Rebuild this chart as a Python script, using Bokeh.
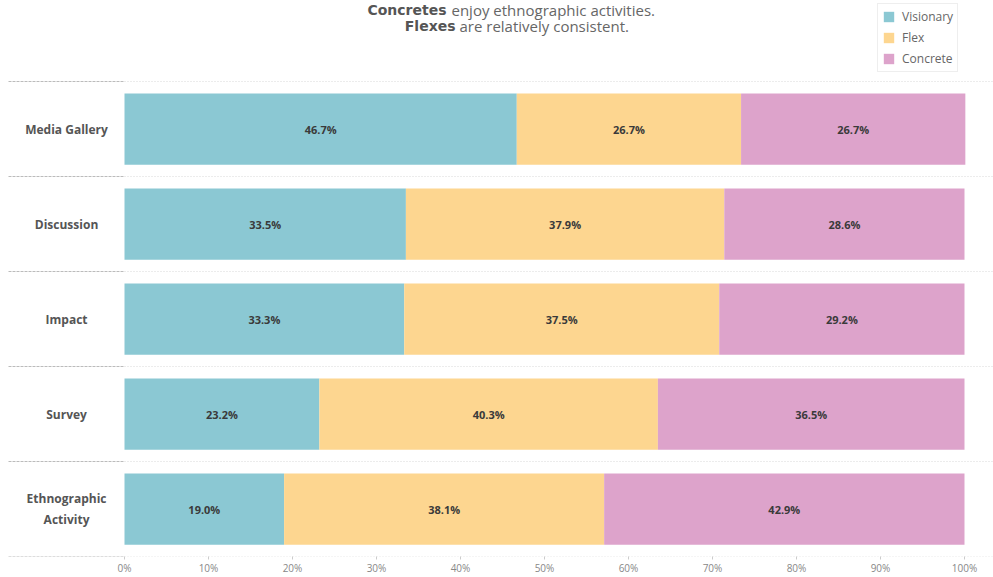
from bokeh.plotting import figure
from bokeh.models import ColumnDataSource, Range1d, FixedTicker, PrintfTickFormatter
from bokeh.core.properties import value
from bokeh.embed import file_html
from bokeh.resources import INLINE

categories = ["Media Gallery", "Discussion", "Impact", "Survey", "Ethnographic\nActivity"]
series = ["Visionary", "Flex", "Concrete"]
visionary = [46.7, 33.5, 33.3, 23.2, 19.0]
flex = [26.7, 37.9, 37.5, 40.3, 38.1]
concrete = [26.7, 28.6, 29.2, 36.5, 42.9]
colors = ["#8BC8D3", "#FDD690", "#DDA3CB"]
x_ticks = [0, 10, 20, 30, 40, 50, 60, 70, 80, 90, 100]
title_bold = ["Concretes", "Flexes"]
title_rest = ["enjoy ethnographic activities.", "are relatively consistent."]

FONT = "Open Sans"
n = len(categories)
ys = [n - i - 0.5 for i in range(n)]

src = ColumnDataSource(dict(y=ys, cat=categories, Visionary=visionary, Flex=flex, Concrete=concrete))

PX_PER_UNIT = 8.4
FRAME_H = 556
x_start = -124 / PX_PER_UNIT
x_end = (993 - 124) / PX_PER_UNIT
y_end = FRAME_H / 95

p = figure(width=993, height=577, output_backend="svg", toolbar_location=None,
           x_range=Range1d(x_start, x_end), y_range=Range1d(0, y_end),
           y_axis_location=None, min_border_left=0, min_border_right=0,
           min_border_top=0, min_border_bottom=0)
p.outline_line_color = None
p.xgrid.visible = False
p.ygrid.visible = False
p.background_fill_color = "white"
p.border_fill_color = "white"

# separators
bounds = list(range(n + 1))
left_edge = x_start + 8 / PX_PER_UNIT
p.segment(x0=[left_edge] * len(bounds), x1=[0] * len(bounds), y0=bounds, y1=bounds,
          line_color="#bbbbbb", line_dash="3 1", line_width=1)
p.segment(x0=[0] * len(bounds), x1=[x_end] * len(bounds), y0=bounds, y1=bounds,
          line_color="#d8d8d8", line_dash="1 2", line_width=1)

rs = p.hbar_stack(series, y="y", height=0.75, color=colors, source=src,
                  line_color=None, legend_label=series)

# segment labels
lx, ly, lt = [], [], []
for i in range(n):
    vals = [visionary[i], flex[i], concrete[i]]
    left = 0
    for v in vals:
        lx.append(left + v / 2)
        ly.append(ys[i])
        lt.append(f"{v:.1f}%")
        left += v
p.text(x=lx, y=ly, text=lt, text_align="center", text_baseline="middle",
       text_font=value(FONT), text_font_size="11px", text_font_style="bold",
       text_color="#3a3a3a")

# category labels
p.text(x=[-6.9] * n, y=ys, text=categories, text_align="center", text_baseline="middle",
       text_font=value(FONT), text_font_size="12px", text_font_style="bold",
       text_color="#555555", text_line_height=1.2)

# title (mixed bold)
split_bold = [(446 - 124) / PX_PER_UNIT, (455 - 124) / PX_PER_UNIT]
split_rest = [(451 - 124) / PX_PER_UNIT, (459 - 124) / PX_PER_UNIT]
title_y = [(FRAME_H - 9) / 95, (FRAME_H - 25) / 95]
p.text(x=split_bold, y=title_y, text=title_bold, text_align="right", text_baseline="middle",
       text_font=value("DejaVu Sans"), text_font_size="14px", text_font_style="bold",
       text_color="#555555")
p.text(x=split_rest, y=title_y, text=title_rest, text_align="left", text_baseline="middle",
       text_font=value(FONT), text_font_size="15px", text_color="#666666")

# x axis
ax = p.xaxis[0]
ax.ticker = FixedTicker(ticks=x_ticks, minor_ticks=[])
ax.formatter = PrintfTickFormatter(format="%d%%")
ax.axis_line_color = None
ax.major_tick_line_color = "#cccccc"
ax.major_tick_out = 3
ax.major_tick_in = 0
ax.minor_tick_line_color = None
ax.major_label_text_font = FONT
ax.major_label_text_font_size = "10px"
ax.major_label_text_color = "#888888"
ax.major_label_standoff = 1

lg = p.legend[0]
lg.location = (877, FRAME_H - 72)
lg.label_text_font = FONT
lg.label_text_font_size = "12px"
lg.label_text_color = "#666666"
lg.glyph_height = 13
lg.glyph_width = 13
lg.label_height = 13
lg.label_standoff = 7
lg.spacing = 4
lg.padding = 4
lg.margin = 0
lg.border_line_color = "#dddddd"
lg.background_fill_color = "white"
lg.background_fill_alpha = 1.0

open("out.html", "w").write(file_html(p, INLINE))
